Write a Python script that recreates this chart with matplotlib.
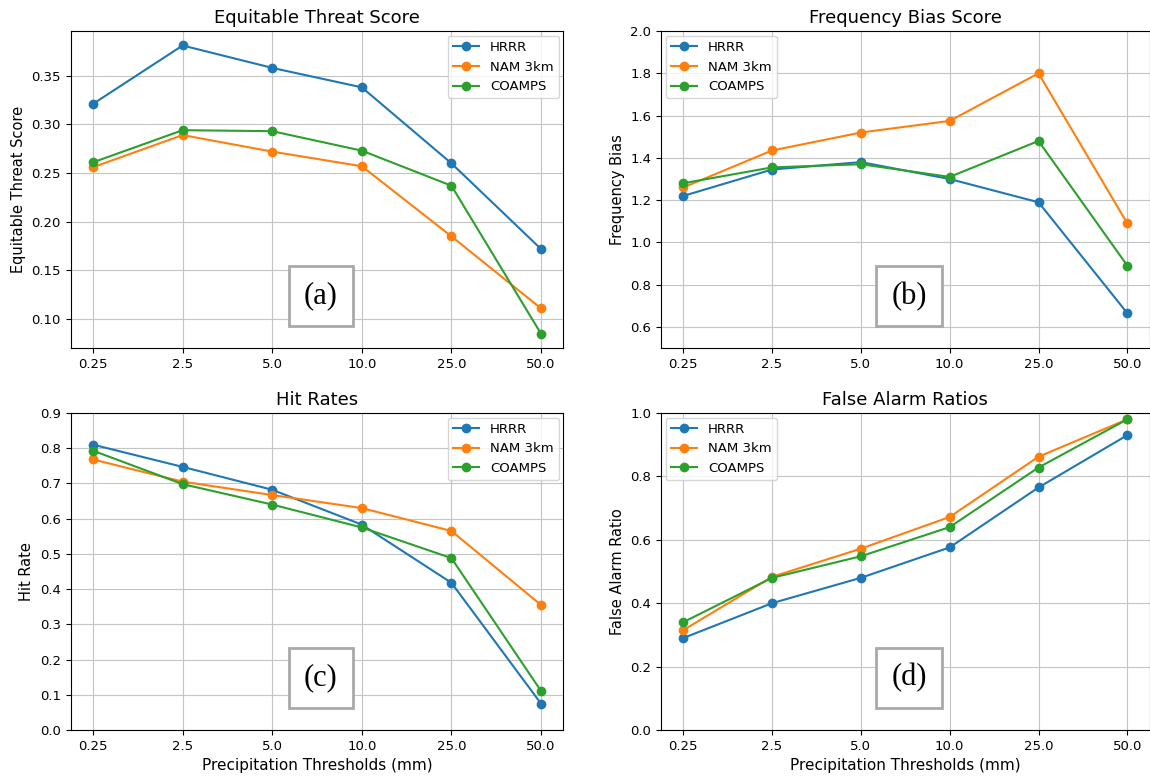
import numpy as np
import matplotlib
matplotlib.use('Agg')
import matplotlib.pyplot as plt

thresholds = ['0.25', '2.5', '5.0', '10.0', '25.0', '50.0']
models = ['HRRR', 'NAM 3km', 'COAMPS']

ets_hrrr = [0.321, 0.381, 0.358, 0.338, 0.260, 0.172]
ets_nam = [0.256, 0.289, 0.272, 0.257, 0.185, 0.111]
ets_coamps = [0.261, 0.294, 0.293, 0.273, 0.237, 0.085]

fb_hrrr = [1.22, 1.345, 1.38, 1.30, 1.19, 0.665]
fb_nam = [1.26, 1.435, 1.52, 1.575, 1.80, 1.09]
fb_coamps = [1.28, 1.355, 1.37, 1.31, 1.48, 0.89]

hit_hrrr = [0.81, 0.747, 0.682, 0.583, 0.418, 0.075]
hit_nam = [0.768, 0.705, 0.667, 0.630, 0.565, 0.355]
hit_coamps = [0.793, 0.698, 0.640, 0.575, 0.488, 0.111]

far_hrrr = [0.29, 0.40, 0.48, 0.576, 0.765, 0.93]
far_nam = [0.315, 0.483, 0.572, 0.672, 0.862, 0.98]
far_coamps = [0.34, 0.48, 0.548, 0.64, 0.828, 0.98]

fig = plt.figure(figsize=(11.5, 7.77), dpi=100)
x = np.arange(len(thresholds))

panels = [
    ([0.0614, 0.552, 0.4285, 0.408], 'Equitable Threat Score', 'Equitable Threat Score',
     (ets_hrrr, ets_nam, ets_coamps), None, 'upper right', '(a)', False),
    ([0.5748, 0.552, 0.4248, 0.408], 'Frequency Bias Score', 'Frequency Bias',
     (fb_hrrr, fb_nam, fb_coamps), (0.5, 2.0), 'upper left', '(b)', False),
    ([0.0614, 0.0605, 0.4285, 0.408], 'Hit Rates', 'Hit Rate',
     (hit_hrrr, hit_nam, hit_coamps), (0.0, 0.9), 'upper right', '(c)', True),
    ([0.5748, 0.0605, 0.4248, 0.408], 'False Alarm Ratios', 'False Alarm Ratio',
     (far_hrrr, far_nam, far_coamps), (0.0, 1.0), 'upper left', '(d)', True),
]

for rect, title, ylabel, series, ylim, loc, tag, xlab in panels:
    ax = fig.add_axes(rect)
    for vals, name in zip(series, models):
        ax.plot(x, vals, marker='o', label=name)
    ax.set_xticks(x)
    ax.set_xticklabels(thresholds)
    if ylim is not None:
        ax.set_ylim(*ylim)
    ax.set_title(title, fontsize=13)
    ax.set_ylabel(ylabel, fontsize=10.5)
    if xlab:
        ax.set_xlabel('Precipitation Thresholds (mm)', fontsize=11)
    ax.tick_params(labelsize=9.5)
    ax.grid(True, color='#c4c4c4')
    ax.legend(loc=loc, fontsize=9.5, borderaxespad=0.35)
    ax.text(0.508, 0.164, tag, transform=ax.transAxes, ha='center', va='center',
            fontsize=22, family='Liberation Serif',
            bbox=dict(boxstyle='square,pad=0.5', facecolor='white',
                      edgecolor='#a9a9a9', linewidth=2))

fig.savefig('out.png', dpi=100)
